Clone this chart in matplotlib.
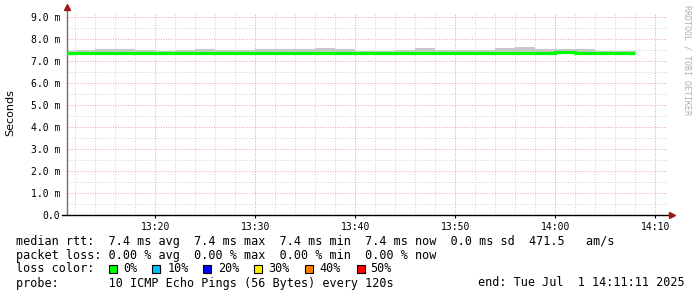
import numpy as np
import matplotlib
matplotlib.use("Agg")
import matplotlib.pyplot as plt
from matplotlib.patches import Rectangle

# --- data (minutes after 13:00, values in ms) ---
x_start, x_end = 11.1833, 71.1833          # 13:11:11 .. 14:11:11
bin_starts = np.arange(10, 68, 2)          # 2 minute probe steps, last one ends at 14:08
smoke_top = [7.47, 7.50, 7.545, 7.545, 7.50, 7.47, 7.50, 7.545, 7.50, 7.50,
             7.545, 7.545, 7.545, 7.606, 7.545, 7.47, 7.47, 7.50, 7.59, 7.50,
             7.50, 7.50, 7.59, 7.636, 7.545, 7.545, 7.545, 7.47, 7.47]
smoke_bot = [7.288, 7.288, 7.318, 7.318, 7.318, 7.318, 7.288, 7.288, 7.318, 7.318,
             7.288, 7.273, 7.288, 7.318, 7.273, 7.288, 7.318, 7.318, 7.348, 7.348,
             7.318, 7.318, 7.273, 7.273, 7.348, 7.318, 7.318, 7.348, 7.273]
median = [7.39, 7.39, 7.39, 7.39, 7.39, 7.39, 7.39, 7.39, 7.39, 7.385,
          7.39, 7.39, 7.39, 7.39, 7.39, 7.39, 7.37, 7.39, 7.39, 7.38,
          7.39, 7.39, 7.39, 7.39, 7.39, 7.43, 7.39, 7.39, 7.36]

y_ticks = [0, 1, 2, 3, 4, 5, 6, 7, 8, 9]
y_labels = ["0.0", "1.0 m", "2.0 m", "3.0 m", "4.0 m", "5.0 m",
            "6.0 m", "7.0 m", "8.0 m", "9.0 m"]
x_ticks = [20, 30, 40, 50, 60, 70]
x_labels = ["13:20", "13:30", "13:40", "13:50", "14:00", "14:10"]

legend_lines = [
    "median rtt:  7.4 ms avg  7.4 ms max  7.4 ms min  7.4 ms now  0.0 ms sd  471.5   am/s",
    "packet loss: 0.00 % avg  0.00 % max  0.00 % min  0.00 % now",
    "loss color:",
    "probe:       10 ICMP Echo Pings (56 Bytes) every 120s",
]
end_text = "end: Tue Jul  1 14:11:11 2025"
loss_labels = ["0%", "10%", "20%", "30%", "40%", "50%"]
loss_colors = ["#00ff00", "#00c0ff", "#0000ff", "#ffee00", "#ff8000", "#ff0000"]

# --- layout (pixels) ---
W, H = 697, 297
ax_l, ax_r, ax_top, ax_bot = 67, 667, 13, 215.3
sq_x = [109, 152, 203, 254, 305, 357]
lab_x = [123, 168, 218, 268, 319, 370]
line_y = [241, 255, 269, 283]

def fx(px):
    return px / W

def fy(py):
    return 1 - py / H

fig = plt.figure(figsize=(W / 100, H / 100), dpi=100)
fig.patch.set_facecolor("white")
ax = fig.add_axes([fx(ax_l), fy(ax_bot), (ax_r - ax_l) / W, (ax_bot - ax_top) / H])
ax.set_xlim(x_start, x_end)
ax.set_ylim(0, (ax_bot - ax_top) / 22.0)

# grid: minor gray, major reddish, both dotted
minor = dict(color="#d2d2d2", lw=0.7, dashes=(1.0, 1.6), zorder=0)
major = dict(color="#e6a2a2", lw=0.7, dashes=(1.0, 1.6), zorder=0)
for t in np.arange(12, 72, 2):
    if t % 10:
        ax.axvline(t, **minor)
for v in np.arange(0.5, 9.5, 1.0):
    ax.axhline(v, **minor)
for t in x_ticks:
    ax.axvline(t, **major)
for v in y_ticks[1:]:
    ax.axhline(v, **major)

# smoke and median
edges = np.append(bin_starts, bin_starts[-1] + 2)
ax.stairs(smoke_top, edges, baseline=smoke_bot, fill=True, color="#c8c8c8", zorder=2)
ax.stairs(median, edges, baseline=None, color="#00ff00", lw=2.3, zorder=3)

# axes
for s in ax.spines.values():
    s.set_visible(False)
ax.plot([0, 0], [0, 1.03], transform=ax.transAxes, color="#707070", lw=1, clip_on=False)
ax.plot([-0.009, 1.008], [0, 0], transform=ax.transAxes, color="black", lw=1, clip_on=False)
ax.plot([0], [1.03], marker="^", ms=4, color="#a01818", transform=ax.transAxes, clip_on=False)
ax.plot([1.008], [0], marker=">", ms=4, color="#a01818", transform=ax.transAxes, clip_on=False)

ax.set_yticks(y_ticks)
ax.set_yticklabels(y_labels, family="DejaVu Sans Mono", fontsize=7)
ax.set_xticks(x_ticks)
ax.set_xticklabels(x_labels, family="DejaVu Sans Mono", fontsize=7)
ax.tick_params(axis="y", length=0, pad=5)
ax.tick_params(axis="x", length=2, pad=2.5, width=0.8)

fig.text(fx(10), fy(113), "Seconds", rotation=90, ha="center", va="center", fontsize=8)
fig.text(fx(687), fy(60), "RRDTOOL / TOBI OETIKER", rotation=-90, ha="center", va="center",
         family="DejaVu Sans Mono", fontsize=6, color="#b0b0b0")

for txt, y in zip(legend_lines, line_y):
    fig.text(fx(16), fy(y), txt, family="DejaVu Sans Mono", fontsize=8.5, va="center")
fig.text(fx(478), fy(line_y[3]), end_text, family="DejaVu Sans Mono", fontsize=8.5, va="center")

for x0, lx, lab, col in zip(sq_x, lab_x, loss_labels, loss_colors):
    fig.patches.append(Rectangle((fx(x0), fy(272.5)), 8 / W, 8 / H, transform=fig.transFigure,
                                 facecolor=col, edgecolor="black", lw=0.8))
    fig.text(fx(lx), fy(line_y[2]), lab, family="DejaVu Sans Mono", fontsize=8.5, va="center")

fig.savefig("out.png", dpi=100, facecolor="white")
